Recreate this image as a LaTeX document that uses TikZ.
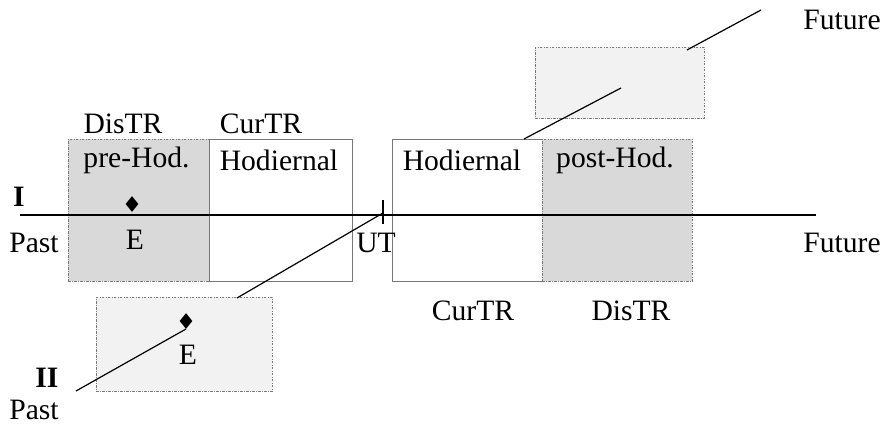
\documentclass[tikz,border=0pt]{standalone}
\usepackage{fontspec}
\setmainfont{Liberation Serif}
\usetikzlibrary{shapes.geometric}
\definecolor{darkfill}{RGB}{217,217,217}
\definecolor{lightfill}{RGB}{242,242,242}
\definecolor{edgegray}{RGB}{120,120,120}
\begin{document}
\begin{tikzpicture}[x=0.5pt,y=-0.5pt,
  lbl/.style={font=\fontsize{14.8pt}{16pt}\selectfont, inner sep=0pt, anchor=center},
  bold/.style={lbl, font=\fontsize{14.8pt}{16pt}\selectfont\bfseries},
  period/.style={draw=edgegray, line width=0.4pt, dash pattern=on 1.2pt off 0.7pt on 0.4pt off 0.7pt, inner sep=0pt, anchor=north west},
  plainbox/.style={draw=edgegray, line width=0.5pt, fill=white, inner sep=0pt, anchor=north west},
  evt/.style={diamond, fill=black, inner sep=0pt, minimum width=6.5pt, minimum height=8pt},
  tline/.style={line width=0.6pt}
]
\useasboundingbox (0,0) rectangle (883,426);

% boxes on timeline I
\node[period, fill=darkfill, minimum width=70.5pt, minimum height=71pt] (preh) at (68,139) {};
\node[plainbox, minimum width=71.5pt, minimum height=71pt] (hodl) at (209,139) {};
\node[plainbox, minimum width=75pt, minimum height=71pt] (hodr) at (392,139) {};
\node[period, fill=darkfill, minimum width=75pt, minimum height=71pt] (posth) at (542,139) {};

% detached periods of timeline II
\node[period, fill=lightfill, minimum width=88pt, minimum height=47pt] (lowbox) at (96,297) {};
\node[period, fill=lightfill, minimum width=84.5pt, minimum height=35.5pt] (futbox) at (535,47) {};

% timeline I
\coordinate (iStart) at (20,215);
\coordinate (iEnd) at (816,215);
\draw[tline] (iStart) -- (iEnd);
\coordinate (utTop) at (383,200);
\coordinate (utBot) at (383,224);
\draw[line width=0.8pt] (utTop) -- (utBot);

% timeline II, in segments
\coordinate (iiA) at (76,391);
\coordinate (iiB) at (186,329);
\coordinate (iiC) at (237,298);
\coordinate (iiD) at (383,213);
\coordinate (iiE) at (524,139);
\coordinate (iiF) at (621,88);
\coordinate (iiG) at (687,50);
\coordinate (iiH) at (761,10);
\draw[tline] (iiA) -- (iiB);
\draw[tline] (iiC) -- (iiD);
\draw[tline] (iiE) -- (iiF);
\draw[tline] (iiG) -- (iiH);

% events
\node[evt] (e1) at (132,204) {};
\node[evt] (e2) at (186,321) {};

% labels
\node[bold] (labI) at (19,197) {I};
\node[lbl] (past1) at (34,243) {Past};
\node[lbl] (E1) at (135,240) {E};
\node[lbl] (ut) at (376,243) {UT};
\node[lbl] (fut1) at (842,243) {Future};
\node[lbl] (fut2) at (842,20) {Future};
\node[lbl] (dis1) at (123,124) {DisTR};
\node[lbl] (cur1) at (261,124) {CurTR};
\node[lbl] (tpre) at (136.5,160) {pre-Hod.};
\node[lbl] (thod1) at (279,160) {Hodiernal};
\node[lbl] (thod2) at (462,160) {Hodiernal};
\node[lbl] (tpost) at (615,160) {post-Hod.};
\node[lbl] (cur2) at (473,311) {CurTR};
\node[lbl] (dis2) at (631,311) {DisTR};
\node[bold] (labII) at (47,378) {II};
\node[lbl] (past2) at (34,410) {Past};
\node[lbl] (E2) at (188,355) {E};
\end{tikzpicture}
\end{document}
